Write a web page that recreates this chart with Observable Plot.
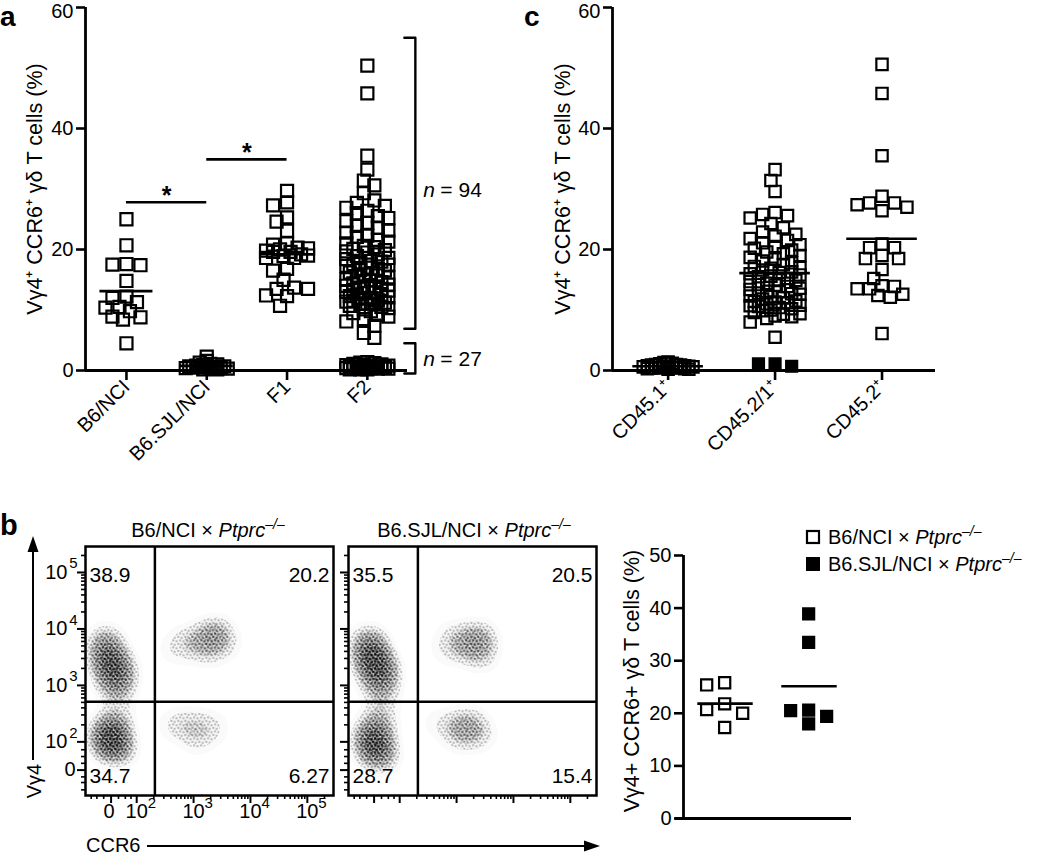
<!DOCTYPE html>
<html>
<head>
<meta charset="utf-8">
<script src="https://cdn.jsdelivr.net/npm/d3@7"></script>
<script src="https://cdn.jsdelivr.net/npm/@observablehq/plot@0.6"></script>
<style>
  body { margin: 0; background: #fff; }
  #fig { position: relative; width: 1050px; height: 855px; overflow: hidden; background: #fff; }
  #fig > div { position: absolute; }
</style>
</head>
<body>
<div id="fig"></div>
<script>
// ---------------- DATA ----------------
// Panel a
const catsA = ["B6/NCI", "B6.SJL/NCI", "F1", "F2"];
const b6nci = [25.0, 20.7, 17.5, 17.6, 17.4, 14.8, 12.0, 12.2, 11.3, 10.5, 10.4, 9.8, 8.8, 8.4, 8.9, 4.5];
const b6sjl = [0.3, 0.5, 0.2, 0.7, 0.4, 0.9, 0.6, 1.1, 0.3, 0.8, 1.3, 0.5, 0.4, 1.6, 0.7, 0.2, 1.0, 0.6, 2.3];
const f1 = [29.7, 27.8, 27.3, 25.3, 24.6, 23.1, 21.0, 20.8, 20.3, 20.2, 20.0, 19.8, 19.6, 19.6, 19.2, 19.0,
            18.9, 18.6, 18.6, 16.8, 16.5, 15.0, 13.5, 13.7, 13.5, 12.4, 12.3, 10.7];
const f2High = [50.4, 45.8, 35.5, 33.2, 31.4, 30.6, 29.3, 28.1, 27.7, 27.2,
                26.9, 26.4, 26.0, 25.5, 25.2, 24.7, 24.4, 23.9, 23.6, 23.1,
                22.8, 22.3, 22.1, 21.6, 21.3, 21.0, 20.6, 20.4, 20.1, 19.7,
                19.5, 19.2, 18.9, 18.6, 18.4, 18.1, 17.8, 17.5, 17.3, 17.0,
                16.8, 16.5, 16.2, 15.9, 15.7, 15.4, 15.1, 14.9, 14.6, 14.4,
                14.2, 13.9, 13.7, 13.5, 13.2, 13.0, 12.8, 12.5, 12.3, 12.1,
                11.9, 11.6, 11.4, 11.2, 11.0, 10.7, 10.5, 10.3, 10.1, 9.8,
                9.5, 9.2, 8.9, 8.5, 8.1, 7.4, 6.2, 5.4,
                19.9, 18.0, 16.6, 15.5, 14.8, 14.0, 13.3, 12.9, 12.0, 11.5, 10.9, 16.1, 17.6, 13.6, 12.6, 11.1];
const f2Low = [0.2, 0.4, 0.3, 0.6, 0.8, 0.5, 0.3, 0.9, 1.1, 0.4, 0.7, 0.2, 1.3, 0.6, 0.5, 0.8, 1.0, 0.3,
               0.6, 1.2, 0.4, 0.7, 0.9, 0.5, 0.2, 1.4, 0.6];
const sigBars = [{from: "B6/NCI", to: "B6.SJL/NCI", y: 27.8}, {from: "B6.SJL/NCI", to: "F1", y: 34.9}];
const brackets = [{n: 94, y1: 6.9, y2: 55.0, labelY: 29.8}, {n: 27, y1: -0.5, y2: 4.5, labelY: 1.8}];

// Panel c
const catsC = ["CD45.1⁺", "CD45.2/1⁺", "CD45.2⁺"];
const cd451 = [0.3, 0.6, 0.4, 0.8, 1.0, 0.5, 0.2, 1.2, 0.7, 0.4, 0.9, 1.4, 0.6, 0.3, 0.5, 1.1, 0.8, 0.2, 0.6,
               1.3, 0.4, 0.7, 0.9, 0.5, 1.0];
const cd4521 = [33.2, 31.4, 29.6, 26.1, 25.8, 25.6, 25.2, 24.3, 23.6, 22.9, 22.5, 22.2, 21.8, 21.5, 21.1, 20.8,
                20.5, 20.2, 19.9, 19.6, 19.3, 19.0, 18.7, 18.4, 18.1, 17.8, 17.5, 17.2, 16.9, 16.6, 16.3, 16.0,
                15.8, 15.5, 15.2, 15.0, 14.7, 14.4, 14.2, 13.9, 13.6, 13.4, 13.1, 12.8, 12.6, 12.3, 12.0, 11.8,
                11.5, 11.2, 11.0, 10.7, 10.4, 10.2, 9.9, 9.6, 9.3, 8.9, 8.0, 5.5, 16.2, 14.9, 13.0, 17.0, 11.4,
                15.6, 10.8, 12.2, 14.1, 8.6, 9.0, 9.4, 10.0, 10.6, 11.3, 12.7];
const cd4521Filled = [1.1, 0.7, 1.1];
const cd452 = [50.6, 45.8, 35.5, 28.8, 27.4, 27.7, 27.7, 26.4, 27.0, 20.9, 20.3, 20.3, 18.5, 18.5, 19.0, 16.7,
               15.2, 13.9, 13.5, 13.5, 14.0, 12.4, 12.1, 12.6, 6.1];

// Panel b (right scatter)
const strainsB = ["B6/NCI", "B6.SJL/NCI"];
const bOpen = [25.4, 25.8, 21.8, 20.7, 20.0, 17.3];
const bFilled = [38.9, 33.5, 20.5, 20.6, 19.4, 18.0];

// Panel b (flow plots): quadrant percentages [UL, UR, LL, LR]
const quadLeft = ["38.9", "20.2", "34.7", "6.27"];
const quadRight = ["35.5", "20.5", "28.7", "15.4"];
// gate positions (decades of display scale)
const gateCCR6 = 2.32, gateVg4 = 2.71;
// population density seeds: [CCR6, Vγ4, relative weight]
const seedsLeft = [
  [1.45, 3.75, 2], [1.52, 3.45, 3], [1.60, 3.15, 2.5], [1.68, 2.9, 1.2], [1.8, 3.3, 0.6],
  [1.50, 2.15, 2.5], [1.56, 1.95, 3], [1.65, 2.35, 1.2], [1.75, 1.85, 0.8],
  [3.4, 3.9, 1.8], [3.1, 3.8, 1.1], [2.8, 3.75, 0.7], [3.25, 3.55, 0.6], [2.6, 3.6, 0.4], [3.6, 3.7, 0.5],
  [2.65, 2.3, 0.8], [3.0, 2.3, 0.9], [3.35, 2.25, 0.8], [3.05, 2.0, 0.6]
];
const seedsRight = [
  [1.45, 3.75, 1.8], [1.52, 3.5, 3], [1.60, 3.2, 2.5], [1.7, 2.9, 1.2], [1.8, 3.3, 0.6],
  [1.52, 2.1, 2.5], [1.58, 1.85, 2.8], [1.65, 2.4, 1.2], [1.75, 1.7, 0.6],
  [3.4, 3.82, 1.8], [3.1, 3.7, 1.1], [3.45, 3.5, 0.8], [2.9, 3.9, 0.5], [2.75, 3.6, 0.4],
  [3.25, 2.3, 1.3], [2.95, 2.25, 0.9], [3.45, 2.1, 0.6], [3.1, 2.05, 0.5], [2.6, 2.35, 0.4]
];

// ---------------- HELPERS ----------------
const FONT = "'Liberation Sans', Arial, Helvetica, sans-serif";
const yTitle = "Vγ4⁺ CCR6⁺ γδ T cells (%)";
const fig = document.getElementById("fig");
function mount(node, left, top) {
  const d = document.createElement("div");
  d.style.left = left + "px"; d.style.top = top + "px";
  d.appendChild(node); fig.appendChild(d);
}
// deterministic column-scatter layout (like a GraphPad scatter dot plot)
function swarmOffsets(values, {pxPerUnit, colPx, minDist, maxCols}) {
  const order = values.map((v, i) => i).sort((a, b) => values[b] - values[a]);
  const placed = [], out = new Array(values.length);
  for (const i of order) {
    const y = values[i] * pxPerUnit;
    let best = 0, bestScore = -Infinity;
    for (let k = 0; k < maxCols; k++) {
      const c = k === 0 ? 0 : (k % 2 ? -Math.ceil(k / 2) : Math.ceil(k / 2));
      const x = c * colPx;
      let md = Infinity;
      for (const p of placed) md = Math.min(md, Math.hypot(p.x - x, p.y - y));
      if (md >= minDist) { best = x; bestScore = Infinity; break; }
      if (md > bestScore) { bestScore = md; best = x; }
    }
    placed.push({x: best, y}); out[i] = best;
  }
  return out;
}
function swarmRows(groups, opts) {
  const rows = [];
  for (const g of groups) {
    const offs = swarmOffsets(g.values, {...opts, ...(g.opts || {})});
    g.values.forEach((v, j) => rows.push({i: g.i, v, x: g.i + offs[j] / opts.stepPx, kind: g.kind || "open"}));
  }
  return rows;
}
const baseStyle = {fontFamily: FONT, fontSize: "20px", background: "transparent", overflow: "visible", color: "black"};
const tight = {minDist: 4};   // near-zero clusters are packed tightly (they render as a solid blob)
// y axis with the top label nudged down slightly (as in the original)
const yAxis = (ticks) => [
  Plot.axisY({ticks, tickSize: 9, tickPadding: 3, strokeWidth: 2.6, label: null, fontSize: 20,
              tickFormat: d => d === ticks[ticks.length - 1] ? "" : String(d)}),
  Plot.text([ticks[ticks.length - 1]], {y: d => d, frameAnchor: "left", textAnchor: "end", dx: -12, dy: 4, fontSize: 20})
];

// ---------------- PANEL a ----------------
const xDomA = [-0.51, 3.5];
const stepA = 80.3;
const rowsA = swarmRows([
  {i: 0, values: b6nci}, {i: 1, values: b6sjl, opts: tight}, {i: 2, values: f1},
  {i: 3, values: f2High}, {i: 3, values: f2Low, opts: tight}
], {pxPerUnit: 6.05, colPx: 3.5, minDist: 11, maxCols: 13, stepPx: stepA});
const meansA = [b6nci, b6sjl, f1].map((arr, i) => ({i, m: d3.mean(arr)}));
const sigRows = sigBars.map(s => ({x1: catsA.indexOf(s.from), x2: catsA.indexOf(s.to), y: s.y}));
const bracketX = 3 + 48 / stepA, bracketTickX = 3 + 37 / stepA;
const bracketPts = brackets.flatMap((b, k) => [
  {k, x: bracketTickX, y: b.y2}, {k, x: bracketX, y: b.y2}, {k, x: bracketX, y: b.y1}, {k, x: bracketTickX, y: b.y1}
]);

const plotA = Plot.plot({
  width: 520, height: 460, marginLeft: 85, marginRight: 113, marginTop: 7, marginBottom: 90,
  style: baseStyle,
  x: {domain: xDomA, axis: null},
  y: {domain: [0, 60], axis: null},
  marks: [
    Plot.dot(rowsA, {x: "x", y: "v", symbol: "square", r: 6.8, stroke: "black", strokeWidth: 2.2, fill: "none"}),
    Plot.ruleY(meansA, {y: "m", x1: d => d.i - 0.33, x2: d => d.i + 0.33, strokeWidth: 2.6}),
    Plot.ruleX([xDomA[0]], {y1: 0, y2: 60, strokeWidth: 2.8}),
    Plot.ruleY([0], {strokeWidth: 2.8}),
    ...yAxis([0, 20, 40, 60]),
    Plot.axisX({ticks: [0, 1, 2, 3], tickFormat: i => catsA[i], tickRotate: -45, tickSize: 10, tickPadding: 3,
                strokeWidth: 2.6, label: null, fontSize: 20}),
    Plot.text([yTitle], {frameAnchor: "left", textAnchor: "middle", rotate: -90, dx: -50, fontSize: 21.5}),
    Plot.ruleY(sigRows, {y: "y", x1: "x1", x2: "x2", strokeWidth: 2.6}),
    Plot.text(sigRows, {x: d => (d.x1 + d.x2) / 2, y: "y", text: () => "*", dy: -6, fontSize: 25, fontWeight: "bold"}),
    Plot.line(bracketPts, {x: "x", y: "y", z: "k", strokeWidth: 2.4}),
    Plot.text(brackets, {x: bracketX, y: "labelY", text: () => "n", fontStyle: "italic", textAnchor: "start", dx: 8, fontSize: 21}),
    Plot.text(brackets, {x: bracketX, y: "labelY", text: d => "= " + d.n, textAnchor: "start", dx: 25, fontSize: 21})
  ]
});
mount(plotA, 0, 0);

// ---------------- PANEL c ----------------
const xDomC = [-0.52, 2.5];
const stepC = 107;
const rowsC = swarmRows([
  {i: 0, values: cd451, opts: tight}, {i: 1, values: cd4521}, {i: 2, values: cd452}
], {pxPerUnit: 6.05, colPx: 4.15, minDist: 11, maxCols: 13, stepPx: stepC});
const rowsCFilled = swarmRows([{i: 1, values: cd4521Filled, kind: "filled"}],
  {pxPerUnit: 6.05, colPx: 8.3, minDist: 14, maxCols: 7, stepPx: stepC});
const meansC = [cd451, cd4521, cd452].map((arr, i) => ({i, m: d3.mean(arr)}));

const plotC = Plot.plot({
  width: 510, height: 460, marginLeft: 72, marginRight: 115, marginTop: 7, marginBottom: 90,
  style: baseStyle,
  x: {domain: xDomC, axis: null},
  y: {domain: [0, 60], axis: null},
  marks: [
    Plot.dot(rowsC, {x: "x", y: "v", symbol: "square", r: 6.4, stroke: "black", strokeWidth: 2.2, fill: "none"}),
    Plot.dot(rowsCFilled, {x: "x", y: "v", symbol: "square", r: 6.6, stroke: "black", strokeWidth: 1.5, fill: "black"}),
    Plot.ruleY(meansC, {y: "m", x1: d => d.i - 0.33, x2: d => d.i + 0.33, strokeWidth: 2.6}),
    Plot.ruleX([xDomC[0]], {y1: 0, y2: 60, strokeWidth: 2.8}),
    Plot.ruleY([0], {strokeWidth: 2.8}),
    ...yAxis([0, 20, 40, 60]),
    Plot.axisX({ticks: [0, 1, 2], tickFormat: i => catsC[i], tickRotate: -45, tickSize: 10, tickPadding: 3,
                strokeWidth: 2.6, label: null, fontSize: 20}),
    Plot.text([yTitle], {frameAnchor: "left", textAnchor: "middle", rotate: -90, dx: -49, fontSize: 21.5})
  ]
});
mount(plotC, 540, 0);

// ---------------- PANEL b: scatter ----------------
const xDomB = [-0.49, 1.51];
const rowsB = swarmRows([{i: 0, values: bOpen, kind: "open"}, {i: 1, values: bFilled, kind: "filled"}],
  {pxPerUnit: 5.26, colPx: 18, minDist: 12, maxCols: 3, stepPx: 84});
const meansB = [bOpen, bFilled].map((arr, i) => ({i, m: d3.mean(arr)}));
const plotB = Plot.plot({
  width: 430, height: 320, marginLeft: 63, marginRight: 199, marginTop: 35, marginBottom: 22,
  style: baseStyle,
  x: {domain: xDomB, axis: null},
  y: {domain: [0, 50], axis: null},
  marks: [
    Plot.dot(rowsB.filter(d => d.kind === "open"), {x: "x", y: "v", symbol: "square", r: 6.3, stroke: "black", strokeWidth: 2.2, fill: "none"}),
    Plot.dot(rowsB.filter(d => d.kind === "filled"), {x: "x", y: "v", symbol: "square", r: 6.6, stroke: "black", strokeWidth: 1.5, fill: "black"}),
    Plot.ruleY(meansB, {y: "m", x1: d => d.i - 0.32, x2: d => d.i + 0.34, strokeWidth: 2.6}),
    Plot.ruleX([xDomB[0]], {y1: 0, y2: 50, strokeWidth: 2.8}),
    Plot.ruleY([0], {strokeWidth: 2.8, insetLeft: -8}),
    Plot.axisY({ticks: [0, 10, 20, 30, 40, 50], tickSize: 9, tickPadding: 3, strokeWidth: 2.6, label: null, fontSize: 20}),
    Plot.text(["Vγ4+ CCR6+ γδ T cells (%)"], {frameAnchor: "left", textAnchor: "middle", rotate: -90, dx: -51, dy: -6, fontSize: 21.5})
  ]
});
mount(plotB, 620, 520);

// ---------------- PANEL b: flow plots ----------------
const zeroX = 1.55, zeroY = 1.5;
const decades = [2, 3, 4, 5];
const minor = [];
for (const d of [2, 3, 4]) for (let k = 2; k <= 9; k++) minor.push(d + Math.log10(k));
minor.push(5 + Math.log10(2));
const minorLowX = [1.2, 1.3, 1.42, 1.68, 1.8, 1.9];
const minorLowY = [1.15, 1.28, 1.38, 1.62, 1.74, 1.86];

function flowPlot(seeds, quads, labelled, ml) {
  const data = seeds.map(([x, y, w]) => ({x, y, w}));
  const dens = (extra) => Plot.density(data, {x: "x", y: "y", weight: "w", bandwidth: 10, stroke: "none", ...extra});
  const labels = labelled ? [
    Plot.text(decades, {x: d => d, frameAnchor: "bottom", text: () => "10", dy: 22, fontSize: 20}),
    Plot.text(decades, {x: d => d, frameAnchor: "bottom", text: d => String(d), textAnchor: "start", dx: 11, dy: 12, fontSize: 15}),
    Plot.text([zeroX], {x: d => d, frameAnchor: "bottom", text: () => "0", dy: 22, dx: -2, fontSize: 20}),
    Plot.text(decades, {y: d => d, frameAnchor: "left", text: () => "10", textAnchor: "end", dx: -18, fontSize: 20}),
    Plot.text(decades, {y: d => d, frameAnchor: "left", text: d => String(d), textAnchor: "end", dx: -8, dy: -9, fontSize: 15}),
    Plot.text([zeroY], {y: d => d, frameAnchor: "left", text: () => "0", textAnchor: "end", dx: -10, fontSize: 20})
  ] : [];
  return Plot.plot({
    width: ml + 260, height: 335, marginLeft: ml, marginRight: 12, marginTop: 26, marginBottom: 60,
    style: baseStyle,
    x: {domain: [1.1, 5.46], axis: null},
    y: {domain: [1.05, 5.46], axis: null},
    marks: [
      dens({thresholds: 14, fill: "#000", fillOpacity: 0.02}),
      dens({thresholds: 7, fill: "url(#speckA)", fillOpacity: 0.8}),
      dens({thresholds: 4, fill: "url(#speckB)", fillOpacity: 0.65}),
      dens({thresholds: 3, fill: "url(#speckC)", fillOpacity: 0.5}),
      Plot.frame({strokeWidth: 2.5}),
      Plot.ruleX([gateCCR6], {strokeWidth: 2.5}),
      Plot.ruleY([gateVg4], {strokeWidth: 2.5}),
      Plot.axisX({ticks: [zeroX, ...decades], tickSize: 8, strokeWidth: 2, label: null, tickFormat: () => ""}),
      Plot.axisX({ticks: [...minorLowX, ...minor], tickSize: 4, strokeWidth: 1.6, label: null, tickFormat: () => ""}),
      Plot.axisY({ticks: [zeroY, ...decades], tickSize: 8, strokeWidth: 2, label: null, tickFormat: () => ""}),
      Plot.axisY({ticks: [...minorLowY, ...minor], tickSize: 4, strokeWidth: 1.6, label: null, tickFormat: () => ""}),
      ...labels,
      Plot.text([quads[0]], {frameAnchor: "top-left", textAnchor: "start", dx: 4, dy: 21, fontSize: 21}),
      Plot.text([quads[1]], {frameAnchor: "top-right", textAnchor: "end", dx: -4, dy: 21, fontSize: 21}),
      Plot.text([quads[2]], {frameAnchor: "bottom-left", textAnchor: "start", dx: 4, dy: -13, fontSize: 21}),
      Plot.text([quads[3]], {frameAnchor: "bottom-right", textAnchor: "end", dx: -4, dy: -13, fontSize: 21})
    ]
  });
}
mount(flowPlot(seedsLeft, quadLeft, true, 85), 0, 520);
mount(flowPlot(seedsRight, quadRight, false, 48), 300, 520);

// ---------------- OVERLAY (panel letters, titles, arrows, legend) ----------------
const NS = "http://www.w3.org/2000/svg";
const geno = (s) => `${s} × <tspan font-style="italic">Ptprc</tspan><tspan font-size="14" dy="-8" font-style="italic">–/–</tspan>`;
const ov = document.createElementNS(NS, "svg");
ov.setAttribute("width", 1050); ov.setAttribute("height", 855);
ov.style.cssText = "position:absolute;left:0;top:0;pointer-events:none;overflow:visible";
ov.setAttribute("font-family", FONT);
ov.innerHTML = `
<defs>
  <pattern id="speckA" width="7" height="7" patternUnits="userSpaceOnUse">
    <rect x="0.5" y="1.2" width="1.1" height="1.1" fill="#000"/>
    <rect x="4.1" y="0.3" width="1.1" height="1.1" fill="#000"/>
    <rect x="2.3" y="3.9" width="1.1" height="1.1" fill="#000"/>
    <rect x="5.6" y="4.8" width="1.1" height="1.1" fill="#000"/>
  </pattern>
  <pattern id="speckB" width="5" height="5" patternUnits="userSpaceOnUse">
    <rect x="1.5" y="0.5" width="1.1" height="1.1" fill="#000"/>
    <rect x="3.8" y="2.7" width="1.1" height="1.1" fill="#000"/>
    <rect x="0.4" y="3.6" width="1.1" height="1.1" fill="#000"/>
  </pattern>
  <pattern id="speckC" width="4" height="4" patternUnits="userSpaceOnUse">
    <rect x="2.6" y="1.4" width="1.1" height="1.1" fill="#000"/>
    <rect x="0.8" y="2.9" width="1.1" height="1.1" fill="#000"/>
  </pattern>
</defs>
<text x="0" y="25.5" font-size="28" font-weight="bold">a</text>
<text x="524" y="25.5" font-size="28" font-weight="bold">c</text>
<text x="0" y="535" font-size="29" font-weight="bold">b</text>
<text x="208" y="537" font-size="20" text-anchor="middle">${geno(strainsB[0])}</text>
<text x="474" y="537" font-size="20" text-anchor="middle">${geno(strainsB[1])}</text>
<line x1="33" y1="760" x2="33" y2="548" stroke="#000" stroke-width="2"/>
<polygon points="33,536 27.5,552 38.5,552" fill="#000"/>
<text transform="translate(41,781) rotate(-90)" font-size="20" text-anchor="middle">Vγ4</text>
<text x="86" y="852" font-size="20">CCR6</text>
<line x1="147" y1="846" x2="586" y2="846" stroke="#000" stroke-width="2"/>
<polygon points="600,846 584,840.5 584,851.5" fill="#000"/>
<rect x="807" y="531" width="12" height="12" fill="none" stroke="#000" stroke-width="2.2"/>
<text x="828" y="544" font-size="20">${geno(strainsB[0])}</text>
<rect x="806" y="557" width="14" height="14" fill="#000"/>
<text x="828" y="571" font-size="20">${geno(strainsB[1])}</text>
`;
fig.appendChild(ov);
</script>
</body>
</html>
